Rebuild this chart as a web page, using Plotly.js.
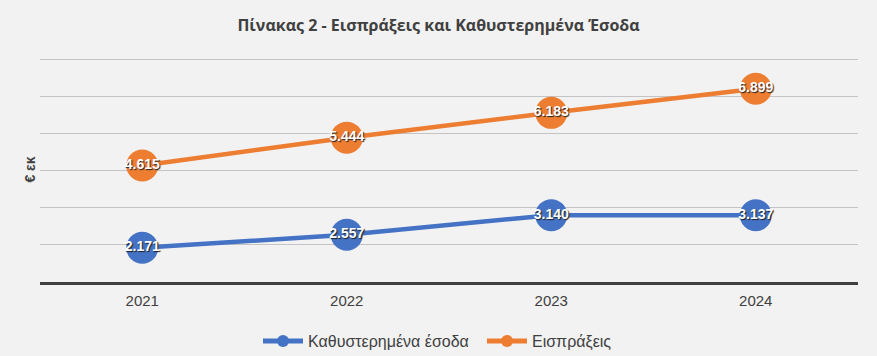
<!DOCTYPE html>
<html>
<head>
<meta charset="utf-8">
<script src="https://cdn.plot.ly/plotly-3.0.1.min.js"></script>
<style>html,body{margin:0;padding:0;background:#f2f2f2;}#chart{width:877px;height:356px;}</style>
</head>
<body>
<div id="chart"></div>
<script>
const years = ['2021', '2022', '2023', '2024'];
const overdueRevenue = [2.171, 2.557, 3.140, 3.137];
const collections = [4.615, 5.444, 6.183, 6.899];
const overdueLabels = ['2.171', '2.557', '3.140', '3.137'];
const collectionsLabels = ['4.615', '5.444', '6.183', '6.899'];
const seriesNames = ['Καθυστερημένα έσοδα', 'Εισπράξεις'];

const labelFont = {family: 'Liberation Sans, Arial, sans-serif', size: 14, color: '#ffffff', weight: 700, shadow: '1px 1px 1px #202020'};

const traces = [
  {
    x: years, y: overdueRevenue, name: seriesNames[0], type: 'scatter', mode: 'lines+markers+text',
    text: overdueLabels, textposition: 'middle center', textfont: labelFont,
    line: {color: '#4472C4', width: 4.5},
    marker: {color: '#4472C4', size: 32},
    cliponaxis: false, hoverinfo: 'skip'
  },
  {
    x: years, y: collections, name: seriesNames[1], type: 'scatter', mode: 'lines+markers+text',
    text: collectionsLabels, textposition: 'middle center', textfont: labelFont,
    line: {color: '#ED7D31', width: 4.5},
    marker: {color: '#ED7D31', size: 32},
    cliponaxis: false, hoverinfo: 'skip'
  }
];

const layout = {
  width: 877, height: 356,
  paper_bgcolor: '#f2f2f2', plot_bgcolor: '#f2f2f2',
  margin: {l: 40, r: 19, t: 57, b: 74, autoexpand: false},
  title: {text: '<b>Πίνακας 2 - Εισπράξεις και Καθυστερημένα Έσοδα</b>', x: 0.5, xanchor: 'center', y: 0.93, yanchor: 'middle',
    font: {family: 'Open Sans, sans-serif', size: 16, color: '#404040'}},
  xaxis: {
    type: 'category', range: [-0.5, 3.5], showgrid: false, zeroline: false,
    showline: true, linecolor: '#404040', linewidth: 3, ticks: '', ticklabelstandoff: 3,
    tickfont: {family: 'Liberation Sans, Arial, sans-serif', size: 15, color: '#404040'}
  },
  yaxis: {
    range: [1.152, 7.843], tick0: 2.267, dtick: 1.1032, showticklabels: false,
    showgrid: true, gridcolor: '#c4c4c4', gridwidth: 1, zeroline: false, showline: false,
    title: {text: '<b>€ εκ</b>', standoff: 0, font: {family: 'Liberation Sans, Arial, sans-serif', size: 14, color: '#404040'}}
  },
  showlegend: true,
  legend: {orientation: 'h', x: 258 / 877, xanchor: 'left', xref: 'container', y: 0.042, yanchor: 'middle', yref: 'container',
    itemsizing: 'constant', entrywidth: 169, entrywidthmode: 'pixels',
    font: {family: 'Liberation Sans, Arial, sans-serif', size: 16, color: '#404040'}, bgcolor: 'rgba(0,0,0,0)', itemwidth: 40}
};

Plotly.newPlot('chart', traces, layout, {displayModeBar: false, staticPlot: true});
</script>
</body>
</html>
